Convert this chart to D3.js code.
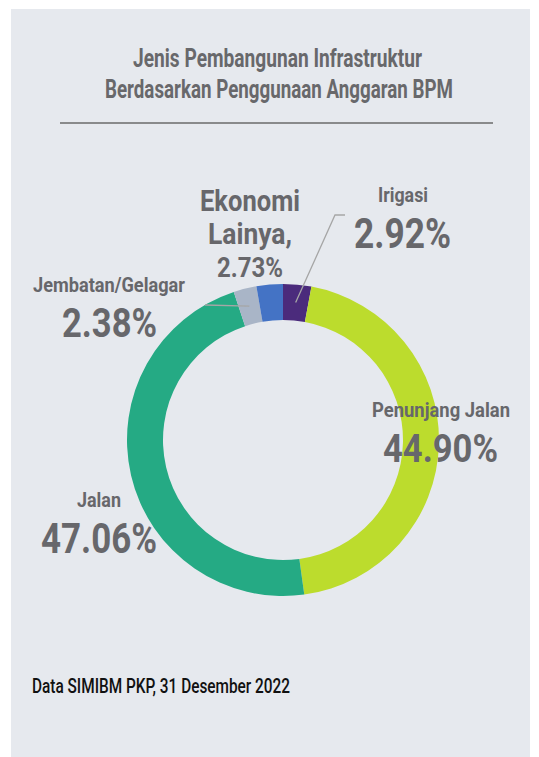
<!DOCTYPE html>
<html>
<head>
<meta charset="utf-8">
<script src="https://cdn.jsdelivr.net/npm/d3@7"></script>
<style>
  body { margin: 0; background: #fff; }
  svg { display: block; }
  text { font-family: Roboto, "Liberation Sans", sans-serif; }
</style>
</head>
<body>
<svg id="chart" width="539" height="757"></svg>
<script>
// data, clockwise from 12 o'clock
var categories = ['Irigasi', 'Penunjang Jalan', 'Jalan', 'Jembatan/Gelagar', 'Ekonomi Lainya']
var values = [2.92, 44.90, 47.06, 2.38, 2.73]
var colors = ['#4b2b7c', '#bcdc2d', '#25aa84', '#a9b5c7', '#4473c5']
var valueLabels = ['2.92%', '44.90%', '47.06%', '2.38%', '2.73%']

var svg = d3.select('#chart')

// panel
svg.append('rect')
  .attr('x', 11).attr('y', 9)
  .attr('width', 519).attr('height', 748)
  .attr('fill', '#e6e9ee')

// title
var title = svg.append('g').attr('fill', '#68686b')
title.append('text')
  .attr('x', 133).attr('y', 67)
  .attr('textLength', 289).attr('lengthAdjust', 'spacingAndGlyphs')
  .style('font-size', '25px').style('font-weight', 700)
  .text('Jenis Pembangunan Infrastruktur')
title.append('text')
  .attr('x', 105).attr('y', 98)
  .attr('textLength', 348).attr('lengthAdjust', 'spacingAndGlyphs')
  .style('font-size', '25px').style('font-weight', 700)
  .text('Berdasarkan Penggunaan Anggaran BPM')

svg.append('line')
  .attr('x1', 60).attr('x2', 493)
  .attr('y1', 123).attr('y2', 123)
  .attr('stroke', '#6a6a6a').attr('stroke-width', 1.5)

// donut
var cx = 283, cy = 440
var outerR = 156, innerR = 120

var pie = d3.pie().sort(null).value(function(d) { return d })
var arc = d3.arc().innerRadius(innerR).outerRadius(outerR)
var arcs = pie(values)

var g = svg.append('g').attr('transform', 'translate(' + [cx, cy] + ')')
g.selectAll('path')
  .data(arcs)
  .enter().append('path')
  .attr('d', arc)
  .attr('fill', function(d, i) { return colors[i] })

// leader lines (ending at slice centroid)
var cIr = arc.centroid(arcs[0])
var cJb = arc.centroid(arcs[3])
svg.append('polyline')
  .attr('points', [[345, 215], [335, 215], [cx + cIr[0], cy + cIr[1]]].join(' '))
  .attr('fill', 'none').attr('stroke', '#a6a6a6').attr('stroke-width', 1.3)
svg.append('line')
  .attr('x1', 205).attr('y1', 305)
  .attr('x2', cx + cJb[0]).attr('y2', cy + cJb[1])
  .attr('stroke', '#a6a6a6').attr('stroke-width', 1.3)

// labels
var labelColor = '#67676b'
function label(txt, x, y, size, weight, len) {
  svg.append('text')
    .attr('x', x - len / 2).attr('y', y)
    .attr('textLength', len).attr('lengthAdjust', 'spacingAndGlyphs')
    .attr('fill', labelColor)
    .style('font-size', size + 'px').style('font-weight', weight)
    .text(txt)
}

label(categories[0], 403, 202, 21, 700, 50)
label(valueLabels[0], 402.5, 248, 42, 700, 97)

label(categories[1], 441, 417, 21, 700, 138)
label(valueLabels[1], 440.5, 462, 39, 700, 115)

label(categories[2], 99, 507, 21, 700, 44)
label(valueLabels[2], 99, 553, 42, 700, 116)

label(categories[3], 109, 292, 21, 700, 152)
label(valueLabels[3], 109.5, 337, 41, 700, 95)

label('Ekonomi', 250, 211, 29, 700, 100)
label('Lainya,', 250, 244, 29, 700, 84)
label(valueLabels[4], 250, 277, 28, 700, 66)

// footer
svg.append('text')
  .attr('x', 32).attr('y', 693)
  .attr('textLength', 258).attr('lengthAdjust', 'spacingAndGlyphs')
  .attr('fill', '#111')
  .style('font-size', '20px').style('font-weight', 500)
  .text('Data SIMIBM PKP, 31 Desember 2022')
</script>
</body>
</html>
